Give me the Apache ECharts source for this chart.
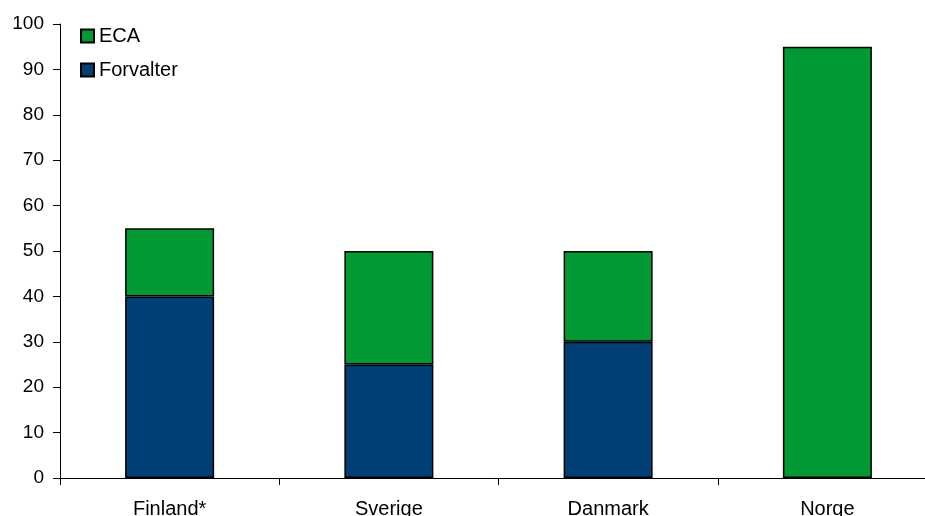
<!DOCTYPE html>
<html>
<head>
<meta charset="utf-8">
<script src="https://cdn.jsdelivr.net/npm/echarts@6/dist/echarts.min.js"></script>
<style>
  html, body { margin: 0; padding: 0; background: #fff; }
  #chart { width: 925px; height: 516px; }
</style>
</head>
<body>
<div id="chart"></div>
<script>
// Country categories along the x axis
const countries = ['Finland*', 'Sverige', 'Danmark', 'Norge'];
// Stacked components (Norge has no Forvalter part)
const forvalter = [40, 25, 30, null];
const eca = [15, 25, 20, 95];
// Y axis range
const yMin = 0, yMax = 100, yStep = 10;

const font = 'Liberation Sans, Arial, sans-serif';
const chart = echarts.init(document.getElementById('chart'));

chart.setOption({
  animation: false,
  backgroundColor: '#ffffff',
  textStyle: { fontFamily: font },
  grid: {
    left: 60, top: 24, bottom: 38, right: -12,
    containLabel: false,
    outerBoundsMode: 'none'
  },
  legend: {
    orient: 'vertical',
    left: 80,
    top: 25,
    padding: 0,
    data: ['ECA', 'Forvalter'],
    icon: 'rect',
    itemWidth: 13,
    itemHeight: 13,
    itemGap: 12,
    textStyle: { fontFamily: font, fontSize: 20, color: '#000', lineHeight: 22 }
  },
  xAxis: {
    type: 'category',
    data: countries,
    axisLine: { lineStyle: { color: '#000', width: 1 } },
    axisTick: { show: true, alignWithLabel: false, length: 7, lineStyle: { color: '#000' } },
    axisLabel: { color: '#000', fontSize: 20, fontFamily: font, margin: 21 },
    splitLine: { show: false }
  },
  yAxis: {
    type: 'value',
    min: yMin,
    max: yMax,
    interval: yStep,
    axisLine: { show: true, lineStyle: { color: '#000', width: 1 } },
    axisTick: { show: true, length: 7, lineStyle: { color: '#000' } },
    axisLabel: { color: '#000', fontSize: 19, fontFamily: font, margin: 16 },
    splitLine: { show: false }
  },
  series: [
    {
      name: 'Forvalter',
      type: 'bar',
      stack: 'total',
      data: forvalter,
      barWidth: '40.6%',
      itemStyle: { color: '#003F75', borderColor: '#000', borderWidth: 1.5 }
    },
    {
      name: 'ECA',
      type: 'bar',
      stack: 'total',
      data: eca,
      barWidth: '40.6%',
      itemStyle: { color: '#009933', borderColor: '#000', borderWidth: 1.5 }
    }
  ]
});
</script>
</body>
</html>
